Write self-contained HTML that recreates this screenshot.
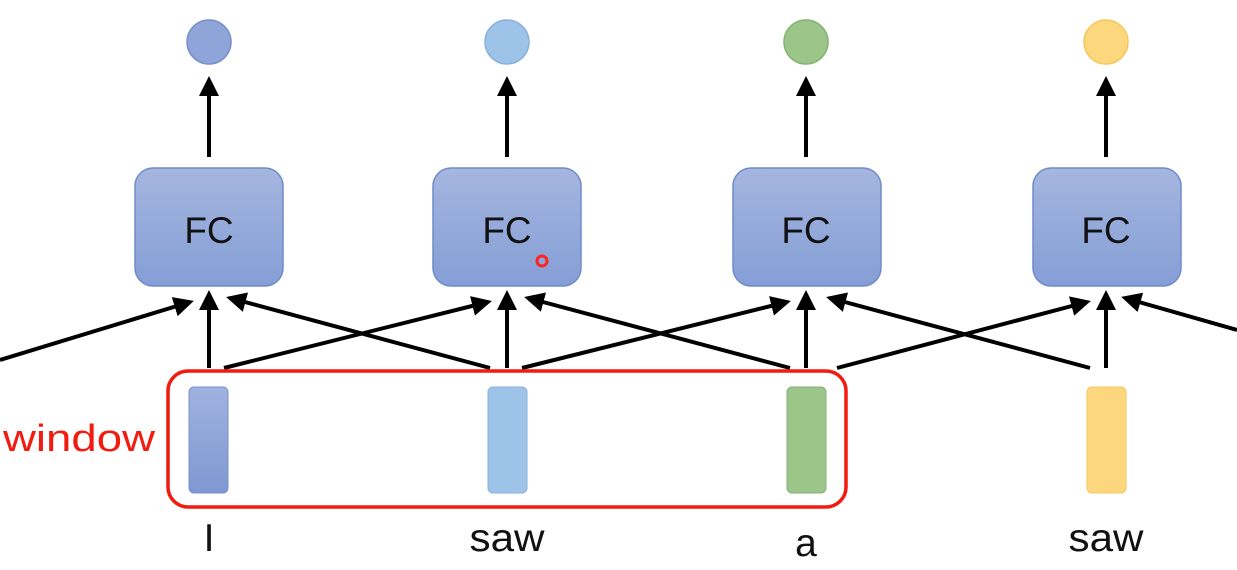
<!DOCTYPE html>
<html><head><style>html,body{margin:0;padding:0;background:#fff;width:1237px;height:570px;overflow:hidden}</style></head>
<body>
<svg width="1237" height="570" viewBox="0 0 1237 570" xmlns="http://www.w3.org/2000/svg" font-family="'Liberation Sans', 'DejaVu Sans', sans-serif">
<defs>
<marker id="ah" markerWidth="5" markerHeight="5" refX="4" refY="2.5" orient="auto" markerUnits="strokeWidth"><path d="M0,0 L5,2.5 L0,5 Z" fill="#000"/></marker>
<linearGradient id="fc" x1="0" y1="0" x2="0" y2="1"><stop offset="0" stop-color="#a5b6df"/><stop offset="1" stop-color="#859ed6"/></linearGradient>
<linearGradient id="b1" x1="0" y1="0" x2="0" y2="1"><stop offset="0" stop-color="#a0b2de"/><stop offset="1" stop-color="#7f98d3"/></linearGradient>
</defs>
<g stroke="#000" stroke-width="4" fill="none" marker-end="url(#ah)">
<line x1="209" y1="157" x2="209" y2="80"/><line x1="507" y1="157" x2="507" y2="80"/><line x1="806" y1="157" x2="806" y2="80"/><line x1="1106" y1="157" x2="1106" y2="80"/>
<line x1="209" y1="368" x2="209" y2="294"/><line x1="507" y1="368" x2="507" y2="294"/><line x1="806" y1="368" x2="806" y2="294"/><line x1="1106" y1="368" x2="1106" y2="294"/>
<line x1="0" y1="360" x2="190" y2="302"/><line x1="224" y1="368" x2="488" y2="302"/><line x1="522" y1="368" x2="787" y2="302"/><line x1="837" y1="368" x2="1087" y2="302"/>
<line x1="490" y1="368" x2="230" y2="298"/><line x1="790" y1="368" x2="528" y2="298"/><line x1="1090" y1="368" x2="830" y2="298"/><line x1="1237" y1="330" x2="1125" y2="298"/>
</g>
<g stroke="#6f8cc8" stroke-width="1.5" fill="url(#fc)">
<rect x="135" y="168" width="148" height="118" rx="18"/><rect x="433" y="168" width="148" height="118" rx="18"/><rect x="733" y="168" width="148" height="118" rx="18"/><rect x="1033" y="168" width="148" height="118" rx="18"/>
</g>
<g font-size="37" text-anchor="middle" fill="#111">
<text x="209" y="243">FC</text><text x="507" y="243">FC</text><text x="806" y="243">FC</text><text x="1106" y="243">FC</text>
</g>
<circle cx="542" cy="261" r="5" fill="none" stroke="#f22" stroke-width="3"/>
<circle cx="209" cy="42" r="22" fill="#8fa4d8" stroke="#7790c8" stroke-width="1.5"/>
<circle cx="507" cy="42" r="22" fill="#9dc3e8" stroke="#8ab1dc" stroke-width="1.5"/>
<circle cx="806" cy="42" r="22" fill="#9cc58a" stroke="#86b274" stroke-width="1.5"/>
<circle cx="1106" cy="42" r="22" fill="#fdd77d" stroke="#f3c860" stroke-width="1.5"/>
<rect x="189" y="387" width="39" height="106" rx="5" fill="url(#b1)" stroke="#7790c8"/>
<rect x="488" y="387" width="39" height="106" rx="5" fill="#9dc3e8" stroke="#8ab1dc"/>
<rect x="787" y="387" width="39" height="106" rx="5" fill="#9cc58a" stroke="#86b274"/>
<rect x="1087" y="387" width="39" height="106" rx="5" fill="#fdd77d" stroke="#f3c860"/>
<rect x="168" y="371" width="678" height="136" rx="20" fill="none" stroke="#f21b0f" stroke-width="3.5"/>
<text x="3" y="451" font-size="38" fill="#f21b0f" textLength="152" lengthAdjust="spacingAndGlyphs">window</text>
<g font-size="39" text-anchor="middle" fill="#111">
<text x="209" y="551">I</text><text x="507" y="551" textLength="75" lengthAdjust="spacingAndGlyphs">saw</text><text x="806" y="556">a</text><text x="1106" y="551" textLength="75" lengthAdjust="spacingAndGlyphs">saw</text>
</g>
</svg>
</body></html>
